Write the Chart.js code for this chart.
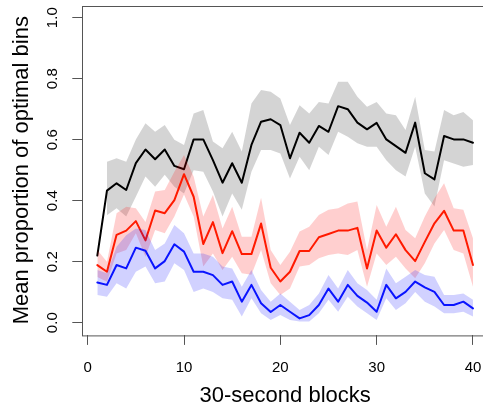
<!DOCTYPE html>
<html>
<head>
<meta charset="utf-8">
<script src="https://cdn.jsdelivr.net/npm/chart.js@4.4.0/dist/chart.umd.min.js"></script>
<style>
  html, body { margin: 0; padding: 0; background: #fff; overflow: hidden; }
  #wrap { width: 495px; height: 406px; }
</style>
</head>
<body>
<div id="wrap"><canvas id="myChart" width="495" height="406"></canvas></div>
<script>
// 30-second blocks
const blocks = [1, 2, 3, 4, 5, 6, 7, 8, 9, 10, 11, 12, 13, 14, 15, 16, 17, 18, 19, 20,
  21, 22, 23, 24, 25, 26, 27, 28, 29, 30, 31, 32, 33, 34, 35, 36, 37, 38, 39, 40];

// black series + grey band
const blackMean = [0.22, 0.433, 0.457, 0.435, 0.523, 0.568, 0.536, 0.568, 0.514, 0.503,
  0.601, 0.601, 0.533, 0.459, 0.523, 0.459, 0.583, 0.659, 0.667, 0.648,
  0.539, 0.623, 0.59, 0.645, 0.626, 0.71, 0.70, 0.656, 0.634, 0.655,
  0.601, 0.579, 0.557, 0.656, 0.49, 0.47, 0.612, 0.601, 0.601, 0.59];
const blackHi = [null, 0.528, 0.539, 0.528, 0.601, 0.654, 0.626, 0.648, 0.60, 0.583,
  0.686, 0.697, 0.594, 0.572, 0.626, 0.561, 0.719, 0.763, 0.757, 0.735,
  0.648, 0.713, 0.686, 0.724, 0.719, 0.79, 0.79, 0.741, 0.708, 0.724,
  0.686, 0.68, 0.632, 0.741, 0.566, 0.561, 0.697, 0.68, 0.691, 0.664];
const blackLo = [null, 0.352, 0.375, 0.348, 0.413, 0.479, 0.446, 0.485, 0.446, 0.424,
  0.5, 0.495, 0.43, 0.348, 0.424, 0.37, 0.495, 0.566, 0.566, 0.555,
  0.473, 0.544, 0.5, 0.577, 0.55, 0.626, 0.61, 0.588, 0.577, 0.577,
  0.533, 0.5, 0.479, 0.577, 0.424, 0.381, 0.533, 0.522, 0.511, 0.517];

// red series + pink band
const redMean = [0.189, 0.167, 0.288, 0.302, 0.333, 0.27, 0.368, 0.359, 0.402, 0.487,
  0.413, 0.258, 0.33, 0.228, 0.3, 0.225, 0.225, 0.325, 0.18, 0.135,
  0.167, 0.235, 0.235, 0.28, 0.291, 0.302, 0.302, 0.311, 0.178, 0.302,
  0.246, 0.29, 0.238, 0.202, 0.265, 0.326, 0.367, 0.302, 0.302, 0.189];
const redHi = [0.238, 0.2, 0.359, 0.38, 0.375, 0.33, 0.43, 0.435, 0.495, 0.55,
  0.479, 0.348, 0.419, 0.309, 0.38, 0.282, 0.282, 0.41, 0.238, 0.189,
  0.233, 0.299, 0.315, 0.353, 0.37, 0.375, 0.391, 0.397, 0.238, 0.386,
  0.315, 0.38, 0.304, 0.277, 0.348, 0.408, 0.457, 0.375, 0.37, 0.277];
const redLo = [0.15, 0.134, 0.227, 0.238, 0.293, 0.216, 0.304, 0.293, 0.348, 0.42,
  0.348, 0.184, 0.227, 0.173, 0.216, 0.162, 0.157, 0.238, 0.129, 0.091,
  0.112, 0.184, 0.189, 0.211, 0.222, 0.227, 0.222, 0.238, 0.118, 0.227,
  0.189, 0.216, 0.178, 0.146, 0.195, 0.26, 0.304, 0.238, 0.227, 0.118];

// blue series + light blue band
const blueMean = [0.132, 0.124, 0.189, 0.178, 0.246, 0.236, 0.178, 0.202, 0.257, 0.233,
  0.167, 0.167, 0.156, 0.124, 0.135, 0.069, 0.124, 0.064, 0.035, 0.058,
  0.036, 0.014, 0.025, 0.058, 0.112, 0.069, 0.124, 0.088, 0.066, 0.036,
  0.124, 0.08, 0.101, 0.135, 0.116, 0.101, 0.058, 0.058, 0.069, 0.047];
const blueHi = [0.173, 0.162, 0.249, 0.287, 0.309, 0.304, 0.238, 0.26, 0.32, 0.293,
  0.227, 0.227, 0.216, 0.184, 0.178, 0.118, 0.173, 0.107, 0.069, 0.096,
  0.069, 0.042, 0.058, 0.096, 0.156, 0.112, 0.173, 0.129, 0.107, 0.075,
  0.178, 0.129, 0.151, 0.173, 0.156, 0.151, 0.091, 0.091, 0.096, 0.075];
const blueLo = [0.091, 0.085, 0.129, 0.112, 0.167, 0.184, 0.129, 0.135, 0.195, 0.173,
  0.101, 0.112, 0.101, 0.08, 0.075, 0.02, 0.08, 0.031, 0.009, 0.025,
  0.009, 0.004, 0.004, 0.031, 0.075, 0.036, 0.085, 0.053, 0.031, 0.009,
  0.08, 0.042, 0.064, 0.101, 0.069, 0.053, 0.031, 0.031, 0.036, 0.02];

// axes
const xTicks = [0, 10, 20, 30, 40];
const yTicks = [0, 0.2, 0.4, 0.6, 0.8, 1.0];
const yTickLabels = ["0.0", "0.2", "0.4", "0.6", "0.8", "1.0"];
const xTitle = "30-second blocks";
const yTitle = "Mean proportion of optimal bins";

const axisColor = "#555";
const fontFamily = "'Liberation Sans', Arial, Helvetica, sans-serif";

function pts(arr) {
  return blocks.map((b, i) => ({ x: b, y: arr[i] }));
}

function bandEdge(arr, order) {
  return {
    data: pts(arr),
    borderWidth: 0,
    borderColor: "rgba(0,0,0,0)",
    pointRadius: 0,
    fill: false,
    order: order,
  };
}

function bandTop(arr, color, order) {
  return {
    data: pts(arr),
    borderWidth: 0,
    borderColor: "rgba(0,0,0,0)",
    backgroundColor: color,
    pointRadius: 0,
    fill: "-1",
    order: order,
  };
}

function meanLine(arr, color, order) {
  return {
    data: pts(arr),
    borderColor: color,
    borderWidth: 2,
    borderJoinStyle: "round",
    borderCapStyle: "round",
    pointRadius: 0,
    fill: false,
    tension: 0,
    order: order,
  };
}

// box, tick labels and axis titles, R style
const textPlugin = {
  id: "textPlugin",
  afterDraw(chart) {
    const c = chart.ctx;
    const xs = chart.scales.x;
    const ys = chart.scales.y;
    const area = chart.chartArea;
    c.save();
    c.strokeStyle = axisColor;
    c.lineWidth = 1;
    c.strokeRect(Math.round(area.left) + 0.5, Math.round(area.top) + 0.5,
      area.right - area.left, area.bottom - area.top);

    c.fillStyle = "#000";
    c.textAlign = "center";
    c.textBaseline = "alphabetic";
    c.font = "15px " + fontFamily;
    xTicks.forEach(v => {
      c.fillText(String(v), xs.getPixelForValue(v), 372);
    });
    yTicks.forEach((v, i) => {
      c.save();
      c.translate(57, ys.getPixelForValue(v));
      c.rotate(-Math.PI / 2);
      c.fillText(yTickLabels[i], 0, 0);
      c.restore();
    });

    c.font = "22px " + fontFamily;
    c.fillText(xTitle, (area.left + area.right) / 2, 401.5);
    c.save();
    c.translate(28, (area.top + area.bottom) / 2);
    c.rotate(-Math.PI / 2);
    c.fillText(yTitle, 0, 0);
    c.restore();
    c.restore();
  },
};

const ctx = document.getElementById("myChart");

const chart = new Chart(ctx, {
  type: "line",
  data: {
    datasets: [
      bandEdge(blackLo, 9),
      bandTop(blackHi, "rgba(0,0,0,0.17)", 8),
      meanLine(blackMean, "#000000", 7),
      bandEdge(redLo, 6),
      bandTop(redHi, "rgba(255,0,0,0.19)", 5),
      meanLine(redMean, "#ff1a00", 4),
      bandEdge(blueLo, 3),
      bandTop(blueHi, "rgba(0,0,255,0.18)", 2),
      meanLine(blueMean, "#0a14ff", 1),
    ],
  },
  options: {
    responsive: false,
    animation: false,
    layout: {
      padding: { top: 5.5, right: 7, left: 0, bottom: 0 },
    },
    scales: {
      x: {
        type: "linear",
        min: -0.56,
        max: 41.56,
        afterBuildTicks: (scale) => {
          scale.ticks = xTicks.map(v => ({ value: v }));
        },
        afterFit: (scale) => {
          scale.height = 71.1;
        },
        ticks: { display: false },
        border: { display: false },
        grid: {
          display: true,
          drawOnChartArea: false,
          drawTicks: true,
          tickLength: 10,
          color: axisColor,
        },
      },
      y: {
        type: "linear",
        min: -0.04,
        max: 1.04,
        afterBuildTicks: (scale) => {
          scale.ticks = yTicks.map(v => ({ value: v }));
        },
        afterFit: (scale) => {
          scale.width = 82.3;
        },
        ticks: { display: false },
        border: { display: false },
        grid: {
          display: true,
          drawOnChartArea: false,
          drawTicks: true,
          tickLength: 10,
          color: axisColor,
        },
      },
    },
    plugins: {
      legend: { display: false },
      tooltip: { enabled: false },
    },
  },
  plugins: [textPlugin],
});
</script>
</body>
</html>
